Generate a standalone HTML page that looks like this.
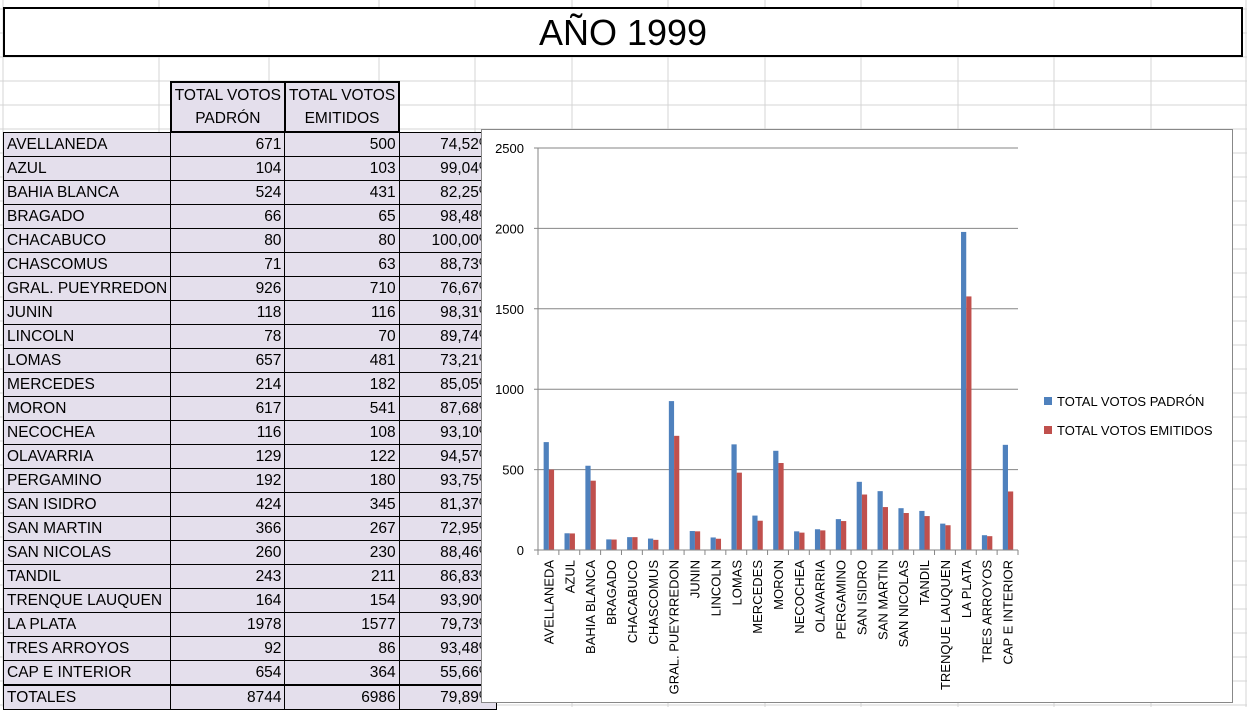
<!DOCTYPE html>
<html><head><meta charset="utf-8"><style>
body{margin:0;width:1247px;height:707px;overflow:hidden;background:#fff;font-family:"Liberation Sans",Calibri,sans-serif;position:relative}
.grid{position:absolute;left:0;top:0;width:1247px;height:707px}
#title{position:absolute;left:3px;top:7px;width:1236px;height:46px;border:2px solid #000;background:#fff;font-size:36px;text-align:center;line-height:48px}
table{position:absolute;left:3px;top:81px;border-collapse:collapse;font-size:15.5px}
td{height:23px;padding:0 3px;border:1px solid #000;background:#e4dfec;white-space:nowrap;line-height:23px}
td.n{text-align:right}
.h td{height:48px;text-align:center;line-height:23px;border:2px solid #000}
.h td.e{background:transparent;border:none}
tr.tot td{border-top:2px solid #000}
#chart{position:absolute;left:481px;top:129px;width:750px;height:572px;border:1px solid #888;background:#fff}
</style></head><body>
<svg class="grid" id="g"></svg>
<div id="title">AÑO 1999</div>
<table id="t">
<tr class="h"><td class="e" style="width:149px"></td><td style="width:104px">TOTAL VOTOS<br>PADRÓN</td><td style="width:104px">TOTAL VOTOS<br>EMITIDOS</td><td class="e" style="width:90px"></td></tr>
</table>
<div id="chart"><svg id="c" width="750" height="572"></svg></div>
<script>
const cats=["AVELLANEDA","AZUL","BAHIA BLANCA","BRAGADO","CHACABUCO","CHASCOMUS","GRAL. PUEYRREDON","JUNIN","LINCOLN","LOMAS","MERCEDES","MORON","NECOCHEA","OLAVARRIA","PERGAMINO","SAN ISIDRO","SAN MARTIN","SAN NICOLAS","TANDIL","TRENQUE LAUQUEN","LA PLATA","TRES ARROYOS","CAP E INTERIOR"];
const padron=[671,104,524,66,80,71,926,118,78,657,214,617,116,129,192,424,366,260,243,164,1978,92,654];
const emitidos=[500,103,431,65,80,63,710,116,70,481,182,541,108,122,180,345,267,230,211,154,1577,86,364];
const pct=["74,52%","99,04%","82,25%","98,48%","100,00%","88,73%","76,67%","98,31%","89,74%","73,21%","85,05%","87,68%","93,10%","94,57%","93,75%","81,37%","72,95%","88,46%","86,83%","93,90%","79,73%","93,48%","55,66%"];
const yTicks=[0,500,1000,1500,2000,2500];
const NS="http://www.w3.org/2000/svg";
// gridlines
const g=document.getElementById('g');
[3,159,269,379,475,572,668,765,861,958,1054,1151,1246].forEach(x=>{const l=document.createElementNS(NS,'line');l.setAttribute('x1',x);l.setAttribute('x2',x);l.setAttribute('y1',0);l.setAttribute('y2',707);l.setAttribute('stroke','#d4d4d4');g.appendChild(l);});
for(let y=9;y<707;y+=24){const l=document.createElementNS(NS,'line');l.setAttribute('x1',0);l.setAttribute('x2',1247);l.setAttribute('y1',y);l.setAttribute('y2',y);l.setAttribute('stroke','#d4d4d4');g.appendChild(l);}
// table
const t=document.getElementById('t');
function row(a,b,c,d,cls){const tr=document.createElement('tr');if(cls)tr.className=cls;


[a,b,c,d].forEach((v,i)=>{const td=document.createElement('td');td.textContent=v;if(i)td.className='n';tr.appendChild(td);});t.appendChild(tr);}
cats.forEach((c,i)=>row(c,padron[i],emitidos[i],pct[i]));
const sp=padron.reduce((a,b)=>a+b,0),se=emitidos.reduce((a,b)=>a+b,0);
row("TOTALES",sp,se,(se/sp*100).toFixed(2).replace('.',',')+'%','tot');
// chart
const c=document.getElementById('c');
const L=56,R=536,T=18,B=420,max=2500;
const y=v=>B-(v/max)*(B-T);
const bw=(R-L)/cats.length;
const x=i=>L+i*bw;
function el(n,a,txt){const e=document.createElementNS(NS,n);for(const k in a)e.setAttribute(k,a[k]);if(txt!==undefined)e.textContent=txt;c.appendChild(e);return e;}
yTicks.forEach(v=>{
const ln=el('line',{x1:L-4,x2:R,y1:y(v),y2:y(v),stroke:'#868686'});


const tx=el('text',{x:L-14,y:y(v)+5,'text-anchor':'end','font-size':13},v);


});
el('line',{x1:L,x2:L,y1:T,y2:B,stroke:'#868686'});
cats.forEach((cat,i)=>{
const b1=el('rect',{x:x(i)+bw*0.27,y:y(padron[i]),width:bw*0.25,height:B-y(padron[i]),fill:'#4f81bd'});


const b2=el('rect',{x:x(i)+bw*0.52,y:y(emitidos[i]),width:bw*0.25,height:B-y(emitidos[i]),fill:'#c0504d'});


el('line',{x1:x(i),x2:x(i),y1:B,y2:B+5,stroke:'#868686'});
const cx=x(i)+bw/2+5;
const tl=el('text',{x:cx,y:B+10,'font-size':13,'text-anchor':'end',transform:`rotate(-90 ${cx} ${B+10})`},cat);


});
el('line',{x1:R,x2:R,y1:B,y2:B+5,stroke:'#868686'});
el('line',{x1:L,x2:R,y1:B,y2:B,stroke:'#868686'});
[["TOTAL VOTOS PADRÓN",'#4f81bd',271],["TOTAL VOTOS EMITIDOS",'#c0504d',300]].forEach(([n,col,yy])=>{
const r=el('rect',{x:562,y:yy-4,width:8,height:8,fill:col});


const tx=el('text',{x:575,y:yy+5,'font-size':13},n);


});
</script>
</body></html>
